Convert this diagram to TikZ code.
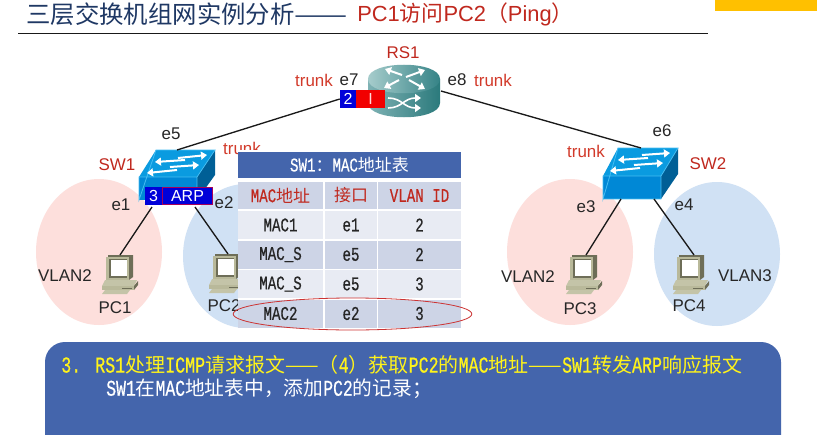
\documentclass[tikz,border=0pt]{standalone}
\usepackage{fontspec}
\usepackage{graphicx}
\setmainfont{Liberation Sans}
\newfontfamily\zhf{Noto Sans CJK SC}
\newfontfamily\arialf{Liberation Sans}
\newfontfamily\latf[Scale=1.14,FakeStretch=0.73,FakeBold=0.5]{Liberation Mono}
\newcommand{\zz}[1]{{\zhf #1}}
\newcommand{\lm}[1]{{\latf #1}}
\usetikzlibrary{arrows.meta,shapes.geometric}
\definecolor{navy}{HTML}{1F3864}
\definecolor{tred}{HTML}{C0281E}
\definecolor{lblred}{HTML}{D23A2A}
\definecolor{barblue}{HTML}{4465AC}
\definecolor{rowa}{HTML}{CDD4E6}
\definecolor{rowb}{HTML}{E8EBF3}
\definecolor{pinkz}{HTML}{FDDFDC}
\definecolor{bluez}{HTML}{D0E1F4}
\definecolor{swtop}{HTML}{0A9BE0}
\definecolor{swfront}{HTML}{0088D6}
\definecolor{swside}{HTML}{005F96}
\definecolor{swedge}{HTML}{45BDF2}
\definecolor{ambr}{HTML}{FFC000}
\definecolor{rtl}{HTML}{A6CCCC}
\definecolor{rtr}{HTML}{358386}
\definecolor{rbl}{HTML}{7FB2B4}
\definecolor{rbr}{HTML}{2B7A7C}
\definecolor{pcbody}{HTML}{B9B99A}
\definecolor{pcdark}{HTML}{6E6E58}
\definecolor{pcbase}{HTML}{C4C4A8}
\tikzset{
  x=0.75pt,y=-0.75pt,
  lbl/.style={font=\fontsize{12.7}{14}\selectfont,inner sep=0pt},
  blk/.style={lbl,text=black!85},
  rd/.style={lbl,text=lblred},
  conn/.style={draw=black!90,line width=1pt},
  zone/.style={ellipse,draw=none,inner sep=0pt},
  tagb/.style={draw=none,fill=blue!85!black,text=white,inner sep=0pt,font=\fontsize{12}{14}\selectfont},
  cell/.style={inner sep=0pt,font=\fontsize{12.75}{15}\selectfont},
  c1/.style={cell,minimum width=63.75pt},
  c2/.style={cell,minimum width=39pt},
  c3/.style={cell,minimum width=62.25pt},
  hd/.style={minimum height=20.5pt,fill=rowa,text=tred},
  ra/.style={minimum height=21pt,fill=rowb,text=black!85},
  rb/.style={minimum height=21pt,fill=rowa,text=black!85},
  whar/.style={white,line width=1.5pt,-{Triangle[length=4.5pt,width=6pt]}},
  pcicon/.pic={
    \fill[pcdark] (2,0) -- (27,0) -- (27,22) -- (23,25) -- (2,25) -- cycle;
    \fill[pcbody] (0,2) -- (23,2) -- (23,25) -- (0,25) -- cycle;
    \fill[pcdark] (3,4) rectangle (21,23);
    \fill[white] (4.5,5) rectangle (20.5,21);
    \fill[pcbase] (-1,25) -- (31,25) -- (28,31) -- (-4,31) -- cycle;
    \fill[pcbody] (-4,31) -- (28,31) -- (28,35) -- (-4,35) -- cycle;
    \fill[pcdark] (28,31) -- (32,26) -- (32,30) -- (28,35) -- cycle;
    \fill[pcbase] (-1,35) -- (24,35) -- (21,39) -- (-4,39) -- cycle;
    \draw[pcdark,line width=.5pt] (16,33) -- (26,33);
  }
}
\begin{document}
\begin{tikzpicture}
\useasboundingbox (0,0) rectangle (817,435);
\fill[white] (0,0) rectangle (817,435);
% title
\fill[ambr] (715,0) rectangle (817,11);
\node[anchor=west,inner sep=0pt,text=navy,font=\zhf\fontsize{18.3}{20}\selectfont] (title) at (26,14) {三层交换机组网实例分析\scalebox{1.3}[1]{——}};
\node[anchor=west,inner sep=0pt,text=tred,font=\zhf\fontsize{16.4}{20}\selectfont] (titleb) at (357,14) {{\arialf PC1}访问{\arialf PC2}（{\arialf Ping}）};
\coordinate (ruleL) at (18,33.5); \coordinate (ruleR) at (708,33.5);
\draw[black!90,line width=1.4pt] (ruleL) -- (ruleR);
% zones
\node[zone,fill=pinkz,minimum width=94.5pt,minimum height=109.5pt] (z1) at (99,252) {};
\node[zone,fill=bluez,minimum width=94.5pt,minimum height=108pt] (z2) at (246,256) {};
\node[zone,fill=pinkz,minimum width=94.5pt,minimum height=109.5pt] (z3) at (570,252) {};
\node[zone,fill=bluez,minimum width=94.5pt,minimum height=108pt] (z4) at (717,254) {};
% router
\shade[left color=rbl,right color=rbr] (368,79) -- (368,103) .. controls (368,122) and (440,122) .. (440,103) -- (440,79) -- cycle;
\shade[left color=rtl,right color=rtr] (368,79) .. controls (368,60) and (440,60) .. (440,79) .. controls (440,98) and (368,98) .. (368,79) -- cycle;
\draw[whar] (402,75) -- (385,69);
\draw[whar] (406,77) -- (425,70);
\draw[whar] (399,80) -- (384,88);
\draw[whar] (409,80) -- (425,89);
\draw[whar,line width=1.2pt] (388,98) .. controls (402,98) and (404,108) .. (421,108);
\draw[whar,line width=1.2pt] (388,108) .. controls (402,108) and (404,98) .. (421,98);
% switch SW1
\fill[swtop] (156,150) -- (215,150) -- (197,177) -- (139,177) -- cycle;
\fill[swfront] (139,177) rectangle (197,200);
\fill[swside] (215,150) -- (197,177) -- (197,200) -- (215,175) -- cycle;
\draw[swedge,line width=.6pt] (139,200) -- (139,177) -- (197,177) -- (215,150) -- (156,150) -- cycle (197,177) -- (197,200);
\draw[whar] (178,158) -- (207,155);
\draw[whar] (185,160) -- (155,162);
\draw[whar] (170,167) -- (199,165);
\draw[whar] (177,170) -- (147,173);
% switch SW2
\fill[swtop] (618,148) -- (678,148) -- (661,176) -- (603,176) -- cycle;
\fill[swfront] (603,176) rectangle (661,199);
\fill[swside] (678,148) -- (661,176) -- (661,199) -- (678,174) -- cycle;
\draw[swedge,line width=.6pt] (603,199) -- (603,176) -- (661,176) -- (678,148) -- (618,148) -- cycle (661,176) -- (661,199) (603,199) -- (661,199);
\draw[whar] (642,155) -- (670,153);
\draw[whar] (648,158) -- (618,160);
\draw[whar] (634,165) -- (663,163);
\draw[whar] (640,168) -- (610,171);
% tags
\node[tagb,minimum width=12pt,minimum height=13.5pt] (t2) at (348,99) {2};
\node[draw=none,fill=red!95!black,text=white!85!red,inner sep=0pt,minimum width=22pt,minimum height=13.5pt,font=\fontsize{12}{14}\selectfont] (tI) at (370.5,99) {I};
\node[tagb,minimum width=12.75pt,minimum height=13.5pt] (t3) at (153.5,196) {3};
\node[tagb,draw=violet!70!red,line width=.7pt,minimum width=38pt,minimum height=13pt] (tarp) at (187.5,196) {ARP};
% PCs
\pic (pc1) at (106,255) {pcicon};
\pic (pc2) at (213,254) {pcicon};
\pic (pc3) at (570,255) {pcicon};
\pic (pc4) at (677,255) {pcicon};
% connector ends
\coordinate (sw1top) at (177,150);
\coordinate (sw2top) at (641,148);
\coordinate (rsr) at (441,91);
\coordinate (sw1a) at (152,207); \coordinate (pc1t) at (120,255);
\coordinate (sw1b) at (195,207); \coordinate (pc2t) at (228,254);
\coordinate (sw2a) at (621,199); \coordinate (pc3t) at (586,255);
\coordinate (sw2b) at (654,199); \coordinate (pc4t) at (694,255);
\draw[conn] (t2.west) -- (sw1top);
\draw[conn] (rsr) -- (sw2top);
\draw[conn] (sw1a) -- (pc1t);
\draw[conn] (sw1b) -- (pc2t);
\draw[conn] (sw2a) -- (pc3t);
\draw[conn] (sw2b) -- (pc4t);
% labels
\node[rd,text=tred] (lrs) at (403,53) {RS1};
\node[rd] (ltr1) at (314,80) {trunk};
\node[blk] (le7) at (349,80) {e7};
\node[blk] (le8) at (457,80) {e8};
\node[rd] (ltr2) at (493,80) {trunk};
\node[blk] (le5) at (171,134) {e5};
\node[rd] (ltr3) at (242,148) {trunk};
\node[rd,text=tred] (lsw1) at (117,165) {SW1};
\node[blk] (le1) at (121,205) {e1};
\node[blk] (le2) at (224,203) {e2};
\node[blk] (lv1) at (65,276) {VLAN2};
\node[blk] (lp1) at (115,308) {PC1};
\node[blk] (lp2) at (224,306) {PC2};
\node[rd] (ltr4) at (586,151) {trunk};
\node[blk] (le6) at (662,131) {e6};
\node[rd,text=tred] (lsw2) at (708,164) {SW2};
\node[blk] (le3) at (586,207) {e3};
\node[blk] (le4) at (684,205) {e4};
\node[blk] (lv2) at (528,277) {VLAN2};
\node[blk] (lp3) at (580,309) {PC3};
\node[blk] (lv3) at (745,276) {VLAN3};
\node[blk] (lp4) at (689,306) {PC4};
% table
\fill[white] (238,150) rectangle (461,328);
\node[cell,fill=barblue,text=white,minimum width=167.25pt,minimum height=19.5pt] (th) at (349.5,165) {\lm{SW1}\zz{：}\lm{MAC}\zz{地址表}};
\foreach \n/\y/\st/\ta/\tb/\tc in {
  r1/195.5/hd/\lm{MAC}\zz{地址}/\zz{接口}/\lm{VLAN ID},
  r2/225/ra/\lm{MAC1}/\lm{e1}/\lm{2},
  r3/254.5/rb/\lm{MAC\_S}/\lm{e5}/\lm{2},
  r4/284/ra/\lm{MAC\_S}/\lm{e5}/\lm{3},
  r5/313.5/rb/\lm{MAC2}/\lm{e2}/\lm{3}}{
  \node[c1,\st] (\n a) at (280.5,\y) {\ta};
  \node[c2,\st] (\n b) at (351,\y) {\tb};
  \node[c3,\st] (\n c) at (419.5,\y) {\tc};
}
\node[ellipse,draw=red!75!black!80,line width=.6pt,inner sep=0pt,minimum width=179pt,minimum height=24pt] (hl) at (352.5,314) {};
% panel
\begin{scope}
\clip (0,0) rectangle (817,435);
\fill[barblue,rounded corners=15pt] (45,470) -- (45,342) -- (781,342) -- (781,470) -- cycle;
\end{scope}
\node[anchor=west,inner sep=0pt,text=yellow!90!white,font=\fontsize{15}{17}\selectfont] (p1) at (61,365) {\lm{3.}\hspace{10.5pt}\lm{RS1}\zz{处理}\lm{ICMP}\zz{请求报文——（}\lm{4}\zz{）获取}\lm{PC2}\zz{的}\lm{MAC}\zz{地址——}\lm{SW1}\zz{转发}\lm{ARP}\zz{响应报文}};
\node[anchor=west,inner sep=0pt,text=white,font=\fontsize{14.8}{17}\selectfont] (p2) at (106,389) {\lm{SW1}\zz{在}\lm{MAC}\zz{地址表中，添加}\lm{PC2}\zz{的记录；}};
\end{tikzpicture}
\end{document}
